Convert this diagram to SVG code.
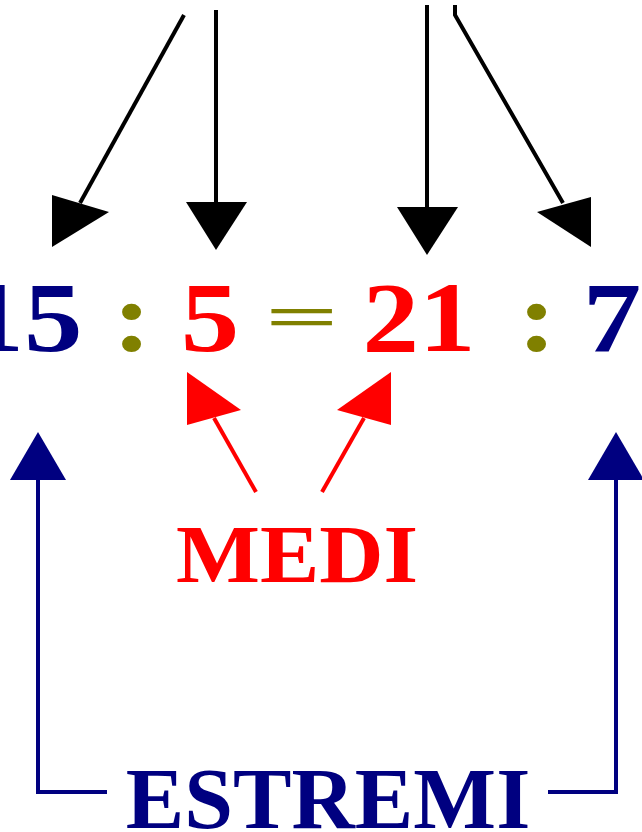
<svg xmlns="http://www.w3.org/2000/svg" width="642" height="832" viewBox="0 0 642 832">
<style>
.t{font-family:"Liberation Serif","Times New Roman",serif;font-weight:bold;text-anchor:middle}
.num{font-size:100px}
.navy{fill:#000080}
.red{fill:#ff0000}
.olive{fill:#808000}
.k{stroke:#000;stroke-width:4;fill:none}
.r{stroke:#ff0000;stroke-width:4;fill:none}
.b{stroke:#000080;stroke-width:4;fill:none}
</style>
<rect width="642" height="832" fill="#fff"/>
<g id="connectors">
  <line class="k" x1="184" y1="15" x2="80" y2="203"/>
  <polygon points="52,195 109,212 52,247" fill="#000"/>
  <line class="k" x1="216" y1="10" x2="216" y2="206"/>
  <polygon points="186,202 247,202 216,250" fill="#000"/>
  <line class="k" x1="427" y1="5" x2="427" y2="210"/>
  <polygon points="397,207 458,207 427,255" fill="#000"/>
  <polyline class="k" points="455,5 455,15 563,203"/>
  <polygon points="591,197 591,247 537,212" fill="#000"/>
  <line class="r" x1="256" y1="492" x2="214" y2="418"/>
  <polygon points="187,372 241,410 187,425" fill="#ff0000"/>
  <line class="r" x1="322" y1="492" x2="364" y2="418"/>
  <polygon points="391,372 391,425 337,410" fill="#ff0000"/>
  <polyline class="b" points="38,476 38,792 107,792"/>
  <polygon points="38,432 66,480 10,480" fill="#000080"/>
  <polyline class="b" points="548,792 616,792 616,476"/>
  <polygon points="616,432 644,480 588,480" fill="#000080"/>
</g>
<g id="n15"><text class="t num navy" transform="translate(24,351) scale(1.17,1)">15</text></g>
<g id="colon1"><text class="t num olive" transform="translate(132,351) scale(1.17,1)">:</text></g>
<g id="n5"><text class="t num red" transform="translate(210,351) scale(1.17,1)">5</text></g>
<g id="eq"><text class="t num olive" transform="translate(302,316) scale(1.3,0.62)" y="34">=</text></g>
<g id="n21"><text class="t num red" transform="translate(419,351) scale(1.13,1)">21</text></g>
<g id="colon2"><text class="t num olive" transform="translate(537,351) scale(1.17,1)">:</text></g>
<g id="n7"><text class="t num navy" transform="translate(612,351) scale(1.17,1)">7</text></g>
<g id="medi"><text class="t red" font-size="82" transform="translate(297,582) scale(1.085,1)">MEDI</text></g>
<g id="estremi"><text class="t navy" font-size="86" transform="translate(328,828) scale(1.02,1)">ESTREMI</text></g>
</svg>
